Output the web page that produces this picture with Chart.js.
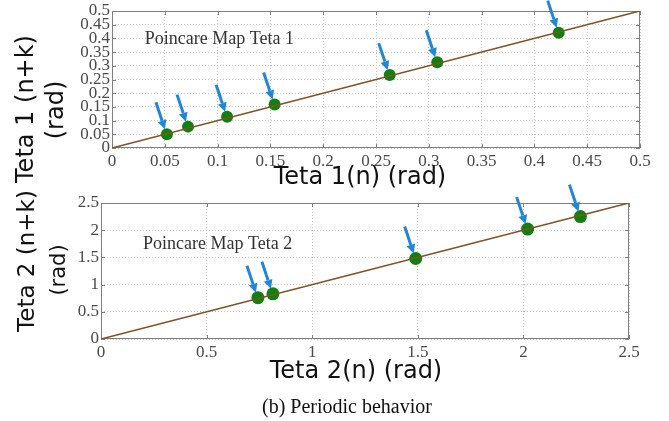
<!DOCTYPE html>
<html><head><meta charset="utf-8">
<script src="https://cdn.jsdelivr.net/npm/chart.js@4/dist/chart.umd.min.js"></script>
<style>
html,body{margin:0;padding:0;background:#fff;width:669px;height:421px;overflow:hidden;}
canvas{position:absolute;left:0;top:0;}
#cap{position:absolute;left:0;width:694px;top:395px;text-align:center;font:20px 'Liberation Serif','Times New Roman',serif;color:#111;}
</style></head><body>
<canvas id="c1" width="669" height="421"></canvas>
<canvas id="c2" width="669" height="421"></canvas>
<div id="cap">(b) Periodic behavior</div>
<script>
// ---- data ----
const teta1N  = [0.052, 0.072, 0.109, 0.154, 0.263, 0.308, 0.423];
const teta1NK = [0.050, 0.078, 0.114, 0.159, 0.266, 0.313, 0.421];
const teta2N  = [0.743, 0.814, 1.49, 2.02, 2.27];
const teta2NK = [0.76, 0.83, 1.48, 2.02, 2.25];
const diag1 = [0, 0.5];
const diag2 = [0, 2.5];
const ticks1 = [0,0.05,0.1,0.15,0.2,0.25,0.3,0.35,0.4,0.45,0.5];
const tickLabels1 = ['0','0.05','0.1','0.15','0.2','0.25','0.3','0.35','0.4','0.45','0.5'];
const ticks2 = [0,0.5,1,1.5,2,2.5];
const tickLabels2 = ['0','0.5','1','1.5','2','2.5'];
const note1 = {x: 0.031, y: 0.398, text: 'Poincare Map Teta 1'};
const note2 = {x: 0.199, y: 1.746, text: 'Poincare Map Teta 2'};

// ---- styles ----
const TICK_FONT = {family: "'Liberation Serif','Times New Roman',serif", size: 17};
const TICK_COLOR = '#4a4a4a';
const GRID_COLOR = '#c4c4c4';
const BOX_COLOR = '#808080';
const LINE_COLOR = '#7e5424';
const PT_COLOR = '#118011';
const ARROW_COLOR = '#1f86d8';
const ARROW_START = [-11, -32];
const ARROW_TIP = [-2, -5];

const decor = {
  id: 'decor',
  beforeDatasetsDraw(chart, args, o) {
    const {ctx, chartArea: a, scales} = chart;
    ctx.save();
    ctx.strokeStyle = BOX_COLOR; ctx.lineWidth = 1;
    ctx.strokeRect(a.left + 0.5, a.top + 0.5, a.right - a.left - 1, a.bottom - a.top - 1);
    ctx.beginPath();
    scales.x.ticks.forEach(t => {
      const px = Math.round(scales.x.getPixelForValue(t.value)) + 0.5;
      ctx.moveTo(px, a.top); ctx.lineTo(px, a.top + 4);
      ctx.moveTo(px, a.bottom); ctx.lineTo(px, a.bottom - 4);
    });
    scales.y.ticks.forEach(t => {
      const py = Math.round(scales.y.getPixelForValue(t.value)) + 0.5;
      ctx.moveTo(a.left, py); ctx.lineTo(a.left + 4, py);
      ctx.moveTo(a.right, py); ctx.lineTo(a.right - 4, py);
    });
    ctx.stroke();
    ctx.restore();
  },
  afterDatasetsDraw(chart, args, o) {
    const {ctx} = chart;
    ctx.save();
    // arrows pointing at each point
    const meta = chart.getDatasetMeta(1);
    meta.data.forEach(pt => {
      const sx = pt.x + ARROW_START[0], sy = pt.y + ARROW_START[1];
      const tx = pt.x + ARROW_TIP[0], ty = pt.y + ARROW_TIP[1];
      const ang = Math.atan2(ty - sy, tx - sx);
      const hl = 9, hw = 4.5;
      const bx = tx - hl * Math.cos(ang), by = ty - hl * Math.sin(ang);
      ctx.strokeStyle = ARROW_COLOR; ctx.fillStyle = ARROW_COLOR; ctx.lineWidth = 3;
      ctx.beginPath(); ctx.moveTo(sx, sy); ctx.lineTo(bx, by); ctx.stroke();
      ctx.beginPath();
      ctx.moveTo(tx, ty);
      ctx.lineTo(bx + hw * Math.sin(ang), by - hw * Math.cos(ang));
      ctx.lineTo(bx - hw * Math.sin(ang), by + hw * Math.cos(ang));
      ctx.closePath(); ctx.fill();
    });
    // annotation
    const n = o.note;
    ctx.fillStyle = '#333';
    ctx.font = "18px 'Liberation Serif','Times New Roman',serif";
    ctx.textAlign = 'left'; ctx.textBaseline = 'middle';
    ctx.fillText(n.text, chart.scales.x.getPixelForValue(n.x), chart.scales.y.getPixelForValue(n.y));
    // axis titles
    ctx.fillStyle = '#111';
    ctx.textAlign = 'center';
    const t = o.xTitle;
    ctx.font = t.size + "px 'DejaVu Sans',sans-serif";
    ctx.fillText(t.text, t.x, t.y);
    o.yTitles.forEach(yt => {
      ctx.save();
      ctx.translate(yt.x, yt.y);
      ctx.rotate(-Math.PI / 2);
      ctx.font = yt.size + "px 'DejaVu Sans',sans-serif";
      ctx.fillText(yt.text, 0, 0);
      ctx.restore();
    });
    ctx.restore();
  }
};

function fixW(w) { return s => { s.width = w; s.paddingLeft = s.paddingRight = s.paddingTop = s.paddingBottom = 0; }; }
function fixH(h) { return s => { s.height = h; s.paddingLeft = s.paddingRight = s.paddingTop = s.paddingBottom = 0; }; }

function makeChart(id, xs, ys, diag, tks, tkl, radius, pad, note, xTitle, yTitles) {
  const axis = (isX) => ({
    type: 'linear', min: tks[0], max: tks[tks.length - 1],
    afterBuildTicks: s => { s.ticks = tks.map(v => ({value: v})); },
    afterFit: isX ? fixH(25) : fixW(40),
    ticks: {autoSkip: false, maxRotation: 0, padding: isX ? 3 : 2, font: TICK_FONT, color: TICK_COLOR,
            callback: (v, i) => tkl[i]},
    grid: {color: GRID_COLOR, lineWidth: 1, drawTicks: false},
    border: {display: false, dash: [1, 2]}
  });
  return new Chart(document.getElementById(id), {
    data: {
      datasets: [
        {type: 'line', data: diag.map(v => ({x: v, y: v})), borderColor: LINE_COLOR, borderWidth: 1.6,
         pointRadius: 0, fill: false},
        {type: 'scatter', data: xs.map((v, i) => ({x: v, y: ys[i]})), backgroundColor: PT_COLOR,
         pointBackgroundColor: PT_COLOR, pointBorderColor: PT_COLOR, pointBorderWidth: 0,
         borderColor: PT_COLOR, pointRadius: radius, borderWidth: 0}
      ]
    },
    options: {
      responsive: false, animation: false, devicePixelRatio: 1,
      layout: {padding: pad},
      plugins: {legend: {display: false}, tooltip: {enabled: false},
                decor: {note: note, xTitle: xTitle, yTitles: yTitles}},
      scales: {x: axis(true), y: axis(false)}
    },
    plugins: [decor]
  });
}

makeChart('c1', teta1N, teta1NK, diag1, ticks1, tickLabels1, 6,
  {left: 72, right: 29, top: 11, bottom: 421 - 148 - 25},
  note1,
  {text: 'Teta 1(n) (rad)', x: 360, y: 178, size: 24},
  [{text: 'Teta 1 (n+k)', x: 27, y: 109, size: 24}, {text: '(rad)', x: 57, y: 110, size: 24}]);

makeChart('c2', teta2N, teta2NK, diag2, ticks2, tickLabels2, 6.5,
  {left: 61, right: 40, top: 203, bottom: 421 - 339 - 25},
  note2,
  {text: 'Teta 2(n) (rad)', x: 356, y: 372, size: 24},
  [{text: 'Teta 2 (n+k)', x: 28, y: 261, size: 23}, {text: '(rad)', x: 60, y: 270, size: 21}]);
</script>
</body></html>
